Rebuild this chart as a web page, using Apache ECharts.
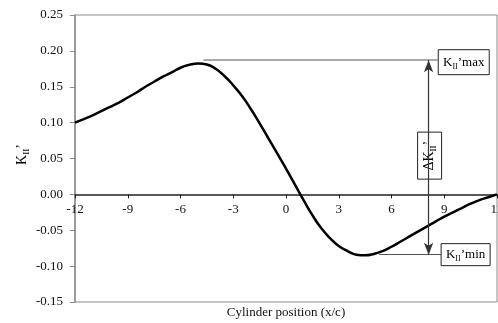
<!DOCTYPE html>
<html>
<head>
<meta charset="utf-8">
<script src="https://cdn.jsdelivr.net/npm/echarts@6/dist/echarts.min.js"></script>
<style>
  html, body { margin: 0; padding: 0; background: #fff; }
  #chart { width: 498px; height: 323px; }
</style>
</head>
<body>
<div id="chart"></div>
<script>
// cylinder position x/c (half steps) and K_II' values
const positions = [-12, -11.5, -11, -10.5, -10, -9.5, -9, -8.5, -8, -7.5, -7, -6.5, -6, -5.5, -5, -4.5,
  -4, -3.5, -3, -2.5, -2, -1.5, -1, -0.5, 0, 0.5, 1, 1.5, 2, 2.5, 3, 3.5, 4, 4.5, 5, 5.5,
  6, 6.5, 7, 7.5, 8, 8.5, 9, 9.5, 10, 10.5, 11, 11.5, 12];
const kValues = [0.100, 0.105, 0.110, 0.116, 0.122, 0.128, 0.135, 0.142, 0.150, 0.157, 0.164, 0.170,
  0.1765, 0.1805, 0.1825, 0.181, 0.175, 0.165, 0.152, 0.137, 0.119, 0.099, 0.078, 0.057, 0.036, 0.014,
  -0.008, -0.029, -0.047, -0.061, -0.072, -0.079, -0.084, -0.085, -0.083, -0.079, -0.073, -0.066,
  -0.059, -0.052, -0.045, -0.038, -0.031, -0.025, -0.019, -0.013, -0.008, -0.004, 0.000];
const yTicks = [-0.15, 0.25, 0.05];
const xTicks = [-12, 12, 3];

// annotation anchors (data units)
const kMax = 0.187;
const kMin = -0.084;
const maxLineX = [-4.7, 8.63];
const minLineX = [5.3, 8.85];
const arrowX = 8.11;
const deltaBoxY = 0.054;

const FONT = '"Liberation Serif", "Times New Roman", serif';
const GRID = { left: 75, right: 1, top: 15, bottom: 21 };
const chart = echarts.init(document.getElementById('chart'));

const subRich = (size) => ({
  a: { fontFamily: FONT, fontSize: size, color: '#111', lineHeight: size + 4, verticalAlign: 'middle' },
  s: { fontFamily: FONT, fontSize: size - 5, color: '#111', lineHeight: size + 4, verticalAlign: 'bottom' }
});

// x axis sits on y = 0, so shift it up from the grid bottom
const gridH = 323 - GRID.top - GRID.bottom;
const zeroShift = gridH * (0 - yTicks[0]) / (yTicks[1] - yTicks[0]);

chart.setOption({
  animation: false,
  grid: Object.assign({ show: true, borderColor: '#8c8c8c', borderWidth: 1, outerBoundsMode: 'none', containLabel: false }, GRID),
  xAxis: {
    type: 'value', min: xTicks[0], max: xTicks[1], interval: xTicks[2],
    offset: -zeroShift,
    axisLine: { onZero: false, lineStyle: { color: '#222', width: 1.5 } },
    axisTick: { length: 4, lineStyle: { color: '#222' } },
    axisLabel: { color: '#111', fontFamily: FONT, fontSize: 13, margin: 9, showMaxLabel: true, showMinLabel: true },
    splitLine: { show: false }
  },
  yAxis: {
    type: 'value', min: yTicks[0], max: yTicks[1], interval: yTicks[2],
    axisLine: { show: true, onZero: false, lineStyle: { color: '#8c8c8c', width: 1.5 } },
    axisTick: { show: true, length: 5, lineStyle: { color: '#8c8c8c' } },
    axisLabel: { color: '#111', fontFamily: FONT, fontSize: 13, margin: 12, formatter: v => v.toFixed(2) },
    splitLine: { show: false }
  },
  series: [{
    type: 'line',
    data: positions.map((x, i) => [x, kValues[i]]),
    smooth: 0.5,
    showSymbol: false,
    lineStyle: { color: '#000', width: 2.5 },
    markLine: {
      silent: true,
      symbol: ['none', 'none'],
      label: { show: false },
      data: [
        [{ coord: [maxLineX[0], kMax], lineStyle: { color: '#8c8c8c', width: 1.5, type: 'solid' } }, { coord: [maxLineX[1], kMax] }],
        [{ coord: [minLineX[0], kMin], lineStyle: { color: '#555', width: 1.2, type: 'solid' } }, { coord: [minLineX[1], kMin] }],
        [{ coord: [arrowX, kMax], symbol: 'arrow', symbolSize: [7, 12], lineStyle: { color: '#333', width: 1.2, type: 'solid' } },
         { coord: [arrowX, kMin], symbol: 'arrow', symbolSize: [7, 12] }]
      ]
    }
  }]
});

function box(x, y, w, h, text, size, rotation) {
  return {
    type: 'group', x: x, y: y, z: 10,
    children: [
      { type: 'rect', shape: { x: -w / 2, y: -h / 2, width: w, height: h },
        style: { fill: '#fff', stroke: '#222', lineWidth: 1 } },
      { type: 'text', rotation: rotation || 0,
        style: { text: text, rich: subRich(size), align: 'center', verticalAlign: 'middle', x: 0, y: 0 } }
    ]
  };
}

const pMax = chart.convertToPixel({ gridIndex: 0 }, [maxLineX[1], kMax]);
const pMin = chart.convertToPixel({ gridIndex: 0 }, [minLineX[1], kMin]);
const pArr = chart.convertToPixel({ gridIndex: 0 }, [arrowX, deltaBoxY]);
const gridLeft = chart.convertToPixel({ gridIndex: 0 }, [-12, 0.05]);
const gridMid = chart.convertToPixel({ gridIndex: 0 }, [0, -0.15]);

chart.setOption({
  graphic: [
    box(pMax[0] + 26, pMax[1] + 2, 51, 25, '{a|K}{s|II}{a|\u2019max}', 13, 0),
    box(pMin[0] + 24, pMin[1], 49, 22, '{a|K}{s|II}{a|\u2019min}', 13, 0),
    box(pArr[0] + 1, pArr[1], 24, 47, '{a|\u0394K}{s|II}{a|\u2019}', 14, Math.PI / 2),
    { type: 'text', x: gridLeft[0] - 53, y: gridLeft[1] - 4, rotation: Math.PI / 2,
      style: { text: '{a|K}{s|II}{a|\u2019}', rich: subRich(14), align: 'center', verticalAlign: 'middle' } },
    { type: 'text', x: gridMid[0], y: gridMid[1] + 11,
      style: { text: 'Cylinder position (x/c)', fontFamily: FONT, fontSize: 13, fill: '#111', align: 'center', verticalAlign: 'middle' } }
  ]
});
</script>
</body>
</html>
